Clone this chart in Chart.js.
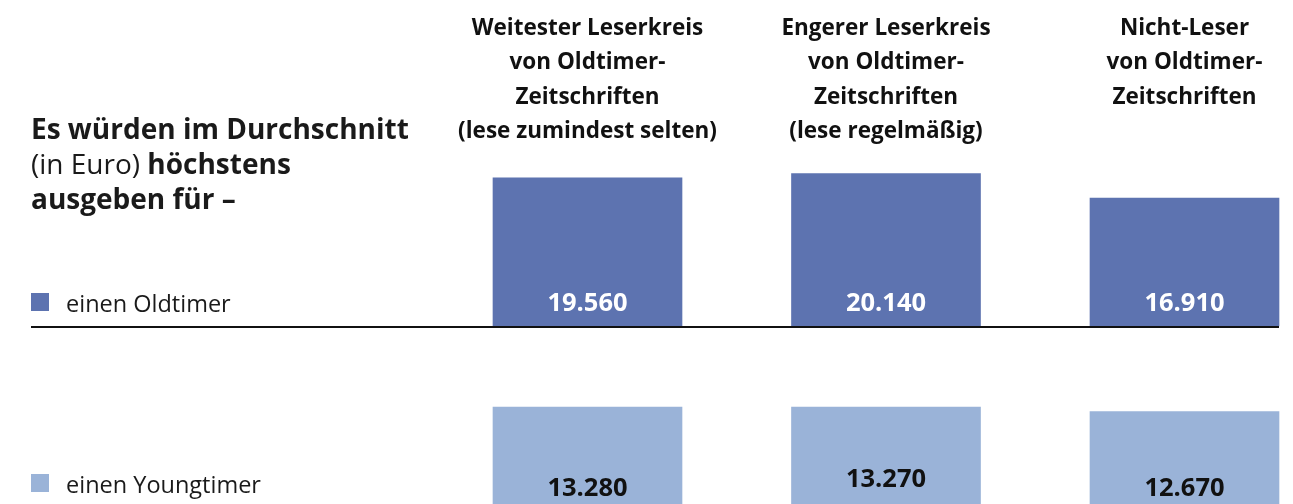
<!DOCTYPE html>
<html><head><meta charset="utf-8">
<script src="https://cdn.jsdelivr.net/npm/chart.js@4/dist/chart.umd.min.js"></script>
<style>
html,body{margin:0;padding:0;background:#fff;overflow:hidden;width:1293px;height:504px;}
#wrap{position:absolute;left:0;top:0;width:1293px;height:504px;}
.t{position:absolute;font-family:"Open Sans",sans-serif;color:#1a1a1a;white-space:nowrap;}
.lg{position:absolute;left:31px;font-family:"Open Sans",sans-serif;font-size:23.5px;color:#1a1a1a;white-space:nowrap;}
.lg span.sq{position:absolute;left:0;top:0;width:18px;height:18px;}
.lg span.tx{position:absolute;left:35px;top:-6px;}
</style></head><body>
<div id="wrap"><canvas id="c" width="1293" height="504"></canvas></div>
<div class="t" style="left:31px;top:111px;font-size:28px;line-height:35px;"><b>Es würden im Durchschnitt</b><br>(in Euro) <b>höchstens</b><br><b>ausgeben für –</b></div>
<div class="lg" id="lg0" style="top:293px;"></div>
<div class="lg" id="lg1" style="top:474px;"></div>
<script>
const categories = [
  ["Weitester Leserkreis", "von Oldtimer-", "Zeitschriften", "(lese zumindest selten)"],
  ["Engerer Leserkreis", "von Oldtimer-", "Zeitschriften", "(lese regelmäßig)"],
  ["Nicht-Leser", "von Oldtimer-", "Zeitschriften"]
];
const seriesNames = ["einen Oldtimer", "einen Youngtimer"];
const oldtimer = [19560, 20140, 16910];
const youngtimer = [13280, 13270, 12670];

const colors = ["rgb(93,115,176)", "rgb(154,179,216)"];
const FONT = '"Open Sans", sans-serif';

function fmt(v) {
  const s = String(Math.round(v));
  return s.replace(/\B(?=(\d{3})+(?!\d))/g, ".");
}

seriesNames.forEach((n, i) => {
  const el = document.getElementById("lg" + i);
  el.innerHTML = '<span class="sq" style="background:' + colors[i] + '"></span><span class="tx">' + n + '</span>';
});

const PX_PER_EURO = 0.00757;
const RANGE = 504 / PX_PER_EURO;
const topMin = -178 / PX_PER_EURO;
const botMin = 3.5 / PX_PER_EURO;

const overlay = {
  id: "overlay",
  afterDatasetsDraw(chart) {
    const ctx = chart.ctx;
    const xs = chart.scales.x;
    const yT = chart.scales.yTop;
    const yB = chart.scales.yBottom;
    ctx.save();
    // baseline of top row
    const by = yT.getPixelForValue(0);
    ctx.fillStyle = "#111";
    ctx.fillRect(31, Math.round(by), xs.getPixelForValue(2) + 94.5 - 31, 2);
    // headers
    ctx.fillStyle = "#111";
    ctx.textAlign = "center";
    ctx.textBaseline = "middle";
    ctx.font = "bold 22.5px " + FONT;
    categories.forEach((lines, i) => {
      const x = xs.getPixelForValue(i);
      lines.forEach((ln, j) => ctx.fillText(ln, x, 28.5 + j * 34.5));
    });
    // value labels
    const lift = [[22, 22, 22], [19, 28, 19]];
    const textCol = ["#ffffff", "#111111"];
    chart.data.datasets.forEach((ds, di) => {
      const meta = chart.getDatasetMeta(di);
      const ys = di === 0 ? yT : yB;
      const base = ys.getPixelForValue(0);
      ctx.fillStyle = textCol[di];
      ctx.font = "bold 25.5px " + FONT;
      meta.data.forEach((bar, k) => {
        ctx.fillText(fmt(ds.data[k].y), bar.x, base - lift[di][k]);
      });
    });
    ctx.restore();
  }
};

new Chart(document.getElementById("c"), {
  type: "bar",
  data: {
    datasets: [
      { label: seriesNames[0], data: oldtimer.map((v, i) => ({ x: i, y: v })), backgroundColor: colors[0], yAxisID: "yTop", grouped: false, barThickness: 189 },
      { label: seriesNames[1], data: youngtimer.map((v, i) => ({ x: i, y: v })), backgroundColor: colors[1], yAxisID: "yBottom", grouped: false, barThickness: 189 }
    ]
  },
  options: {
    responsive: false,
    animation: false,
    layout: { padding: 0 },
    plugins: { legend: { display: false }, tooltip: { enabled: false }, title: { display: false } },
    scales: {
      x: { type: "linear", display: false, offset: false, grid: { offset: false }, min: -587.5 / 298.5, max: -587.5 / 298.5 + 1293 / 298.5 },
      yTop: { type: "linear", display: false, min: topMin, max: topMin + RANGE },
      yBottom: { type: "linear", display: false, min: botMin, max: botMin + RANGE }
    }
  },
  plugins: [overlay]
});
</script>
</body></html>
